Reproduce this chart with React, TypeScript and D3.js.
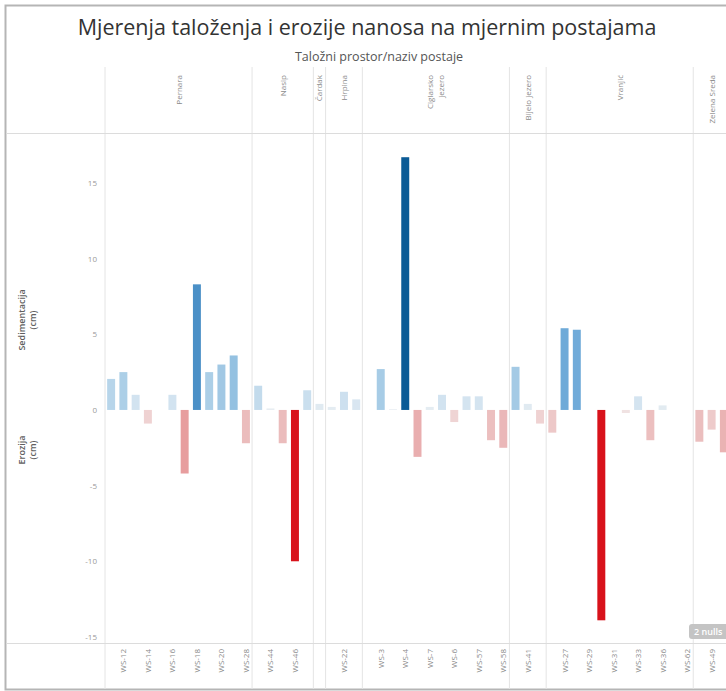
import React from "react";
import * as d3 from "d3";

const title = "Mjerenja taloženja i erozije nanosa na mjernim postajama";
const subtitle = "Taložni prostor/naziv postaje";

const groupNames = [
  ["Pernara"],
  ["Nasip"],
  ["Čardak"],
  ["Hrpina"],
  ["Ciglarsko", "jezero"],
  ["Bijelo jezero"],
  ["Vranjić"],
  ["Zelena Sreda"],
];

const groupStations = [
  ["WS-11", "WS-12", "WS-13", "WS-14", "WS-15", "WS-16", "WS-17", "WS-18", "WS-19", "WS-20", "WS-26", "WS-28"],
  ["WS-43", "WS-44", "WS-45", "WS-46", "WS-47"],
  ["WS-23"],
  ["WS-21", "WS-22", "WS-24"],
  ["WS-1", "WS-3", "WS-2", "WS-4", "WS-5", "WS-7", "WS-8", "WS-6", "WS-55", "WS-57", "WS-59", "WS-58"],
  ["WS-40", "WS-41", "WS-42"],
  ["WS-60", "WS-27", "WS-63", "WS-29", "WS-30", "WS-31", "WS-32", "WS-33", "WS-34", "WS-36", "WS-37", "WS-62"],
  ["WS-48", "WS-49", "WS-50"],
];

const groupValues: (number | null)[][] = [
  [2.05, 2.5, 1.0, -0.9, null, 1.0, -4.2, 8.3, 2.5, 3.0, 3.6, -2.2],
  [1.6, 0.1, -2.2, -10.0, 1.3],
  [0.4],
  [0.2, 1.2, 0.7],
  [null, 2.7, 0.05, 16.7, -3.1, 0.2, 1.0, -0.8, 0.9, 0.9, -2.0, -2.5],
  [2.85, 0.4, -0.9],
  [-1.5, 5.4, 5.3, 0, -13.9, 0, -0.2, 0.9, -2.0, 0.3, 0, 0],
  [-2.1, -1.3, -2.8],
];

const yTicks = [15, 10, 5, 0, -5, -10, -15];

const W = 726;
const H = 691;
const FONT = "'Open Sans', 'Noto Sans', sans-serif";

export default function App() {
  const allIds = groupStations.flat();
  const x = d3
    .scaleBand<string>()
    .domain(allIds)
    .range([105, 730])
    .paddingInner(0.35)
    .paddingOuter(0.175);
  const step = x.step();
  const bw = x.bandwidth();
  const y = d3.scaleLinear().domain([-15.4, 18.3]).range([643, 133]);

  const posColor = d3
    .scaleLinear<string>()
    .domain([0, 1, 2.7, 5.4, 8.3, 16.7])
    .range(["#e9eef2", "#d2e3f0", "#a7cce6", "#6eaad8", "#4b90c7", "#0b5b96"])
    .clamp(true);
  const negColor = d3
    .scaleLinear<string>()
    .domain([0, -1, -2.2, -4.2, -10])
    .range(["#f0e6e6", "#efd0d0", "#ebbcbc", "#e79d9e", "#d8121b"])
    .clamp(true);

  const bars: { id: string; v: number }[] = [];
  groupStations.forEach((ids, gi) =>
    ids.forEach((id, i) => {
      const v = groupValues[gi][i];
      if (v !== null && v !== 0) bars.push({ id, v });
    })
  );

  const edge = (id: string) => (x(id) as number) - (step - bw) / 2;
  const boundaries = groupStations.map((ids) => edge(ids[0]));
  boundaries.push(edge(groupStations[groupStations.length - 1].slice(-1)[0]) + step);

  return (
    <svg
      width={W}
      height={H}
      style={{ position: "absolute", left: 0, top: 0, background: "#fff" }}
      fontFamily={FONT}
    >
      <rect x={5.5} y={5.5} width={W + 20} height={684} fill="#fff" stroke="#b5b5b5" strokeWidth={2} />
      <text x={367} y={35} textAnchor="middle" fontSize={21.5} fill="#333">
        {title}
      </text>
      <text x={379} y={61} textAnchor="middle" fontSize={12.5} fill="#555">
        {subtitle}
      </text>

      {/* separators */}
      {boundaries.map((b, i) => (
        <line key={"b" + i} x1={b} x2={b} y1={67} y2={689} stroke="#e4e4e4" strokeWidth={1} />
      ))}
      <line x1={6} x2={W} y1={133.5} y2={133.5} stroke="#dcdcdc" />
      <line x1={6} x2={W} y1={643.5} y2={643.5} stroke="#dcdcdc" />

      {/* header labels */}
      {groupNames.map((lines, gi) => {
        const cx = (boundaries[gi] + boundaries[gi + 1]) / 2;
        const n = lines.length;
        return lines.map((ln, li) => {
          const lx = cx + (li - (n - 1) / 2) * 11 + 3;
          return (
            <text
              key={"h" + gi + li}
              transform={`translate(${lx},75) rotate(-90)`}
              textAnchor="end"
              fontSize={8}
              fill="#8a8a8a"
            >
              {ln}
            </text>
          );
        });
      })}

      {/* y ticks */}
      {yTicks.map((t) => (
        <text key={"t" + t} x={97} y={y(t) + 3} textAnchor="end" fontSize={8} fill="#9a9a9a">
          {t}
        </text>
      ))}

      {/* axis titles */}
      <g fontSize={9} fontWeight={600} fill="#606060">
        <text transform="translate(25,320) rotate(-90)" textAnchor="middle">Sedimentacija</text>
        <text transform="translate(36,320) rotate(-90)" textAnchor="middle">(cm)</text>
        <text transform="translate(25,450) rotate(-90)" textAnchor="middle">Erozija</text>
        <text transform="translate(36,450) rotate(-90)" textAnchor="middle">(cm)</text>
      </g>

      {/* bars */}
      {bars.map((b) => (
        <rect
          key={b.id}
          x={x(b.id)}
          width={bw}
          y={b.v >= 0 ? y(b.v) : y(0)}
          height={Math.abs(y(b.v) - y(0))}
          fill={b.v >= 0 ? posColor(b.v) : negColor(b.v)}
        />
      ))}

      {/* x labels (every second shown) */}
      {groupStations.map((ids) =>
        ids.map((id, i) =>
          i % 2 === 1 ? (
            <text
              key={"x" + id}
              transform={`translate(${(x(id) as number) + bw / 2 + 3},649) rotate(-90)`}
              textAnchor="end"
              fontSize={8}
              fill="#8a8a8a"
            >
              {id}
            </text>
          ) : null
        )
      )}

      {/* nulls indicator */}
      <rect x={689} y={624} width={50} height={15} rx={3} fill="#c4c4c4" />
      <text x={694} y={635} fontSize={9} fontWeight={600} fill="#fff">
        2 nulls
      </text>
    </svg>
  );
}
